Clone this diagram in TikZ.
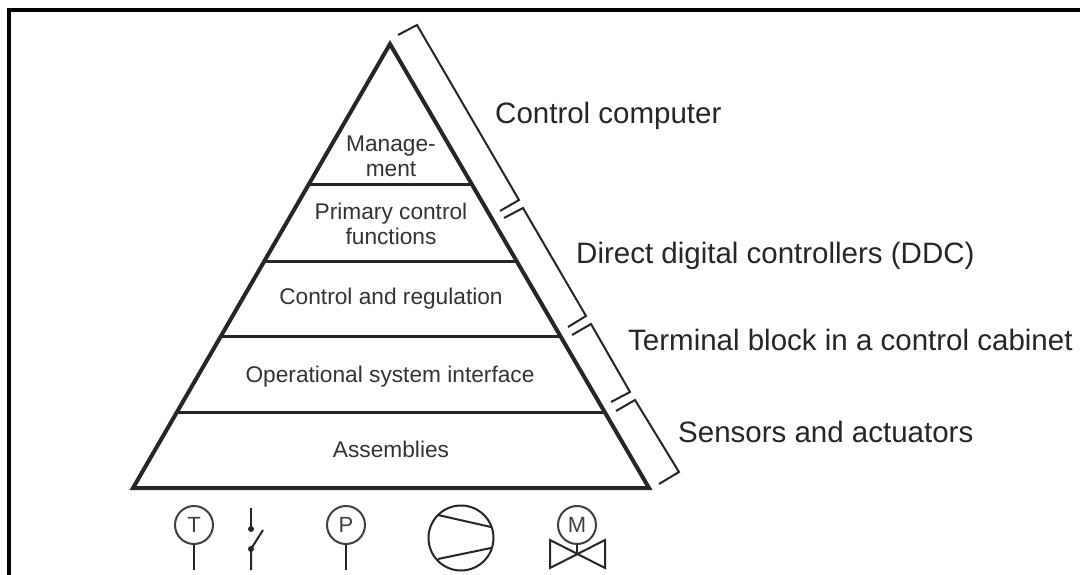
\documentclass[tikz,border=0pt]{standalone}
\usepackage{fontspec}
\setmainfont{Liberation Sans}
\usetikzlibrary{positioning}
\tikzset{
    level/.style={black!85, line width=3pt},
    bracket/.style={black!85, line width=2pt},
    symbol/.style={black!85, line width=2pt},
    layertext/.style={black!80, font=\fontsize{22.7}{25}\selectfont, align=center},
    sidetext/.style={black!85, font=\fontsize{29.5}{34}\selectfont, anchor=west, inner sep=0pt},
    letter/.style={black!75, font=\fontsize{22}{24}\selectfont}
}
\begin{document}
\begin{tikzpicture}[x=1pt, y=-1pt]
    \useasboundingbox (0,0) rectangle (1080,575);
    \fill[white] (0,0) rectangle (1080,575);

    % Frame
    \draw[black, line width=4pt] (9,575) -- (9,10) -- (1080,10);

    % Pyramid
    \coordinate (apex) at (390,44);
    \coordinate (baseleft) at (133,488);
    \coordinate (baseright) at (649,488);
    \draw[level, line width=4pt, line join=miter] (apex) -- (baseleft) -- (baseright) -- cycle;
    \foreach \yy/\xa/\xb in {185/307/472, 261/263/517, 336/219/561, 412/175/605} {
        \draw[level] (\xa,\yy) -- (\xb,\yy);
    }

    % Layer names
    \node[layertext] (management) at (391,156) {Manage-\\ment};
    \node[layertext] (primary) at (391,224) {Primary control\\functions};
    \node[layertext] (regulation) at (391,299) {Control and regulation};
    \node[layertext] (interface) at (390,377) {Operational system interface};
    \node[layertext] (assemblies) at (391,449) {Assemblies};

    % Brackets
    \draw[bracket] (398,35) -- (417,25) -- (519,200) -- (500,211);
    \draw[bracket] (504,218) -- (523,208) -- (586,316) -- (568,327);
    \draw[bracket] (572,335) -- (591,324) -- (630,392) -- (611,402);
    \draw[bracket] (616,411) -- (635,400) -- (679,472) -- (659,484);

    % Hardware names
    \node[sidetext] (computer) at (495,116) {Control computer};
    \node[sidetext] (ddc) at (576,256) {Direct digital controllers (DDC)};
    \node[sidetext] (terminal) at (628,340) {Terminal block in a control cabinet};
    \node[sidetext] (sensors) at (678,432) {Sensors and actuators};

    % Temperature and pressure sensors
    \foreach \xx/\name in {194/T,346/P} {
        \node[symbol, draw, circle, minimum size=38pt, inner sep=0pt, letter] (sensor\name) at (\xx,525) {\name};
        \draw[symbol] (sensor\name.south) -- (\xx,570);
    }

    % Switch
    \draw[symbol] (251,508) -- (251,529);
    \fill[black!85] (251,529) circle (3pt);
    \fill[black!85] (251,549) circle (3pt);
    \draw[symbol] (263,530) -- (251,549) -- (251,570);

    % Compressor
    \draw[symbol] (461,538) circle (32.5);
    \draw[symbol] (438,515) -- (491,527);
    \draw[symbol] (438,559) -- (491,548);

    % Motor valve
    \node[symbol, draw, circle, minimum size=38pt, inner sep=0pt, letter] (motor) at (577,525) {M};
    \draw[symbol] (motor.south) -- (577,555);
    \draw[symbol, line join=miter] (550,540) -- (550,568) -- (605,540) -- (605,568) -- cycle;
\end{tikzpicture}
\end{document}
